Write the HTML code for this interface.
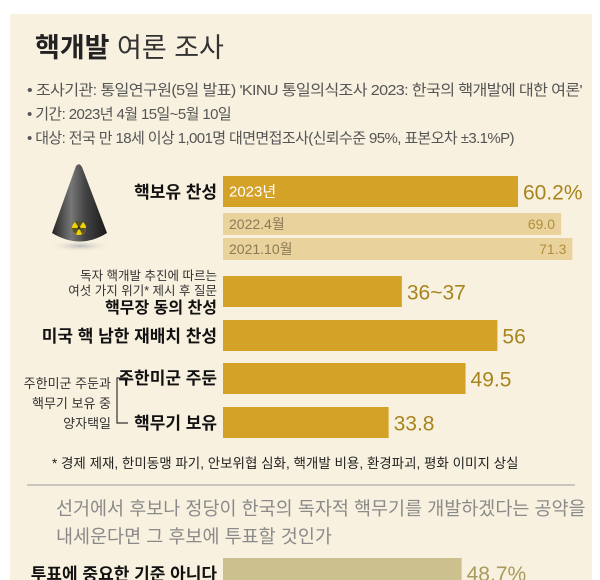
<!DOCTYPE html>
<html><head><meta charset="utf-8">
<style>
body{margin:0;width:600px;height:580px;background:#fff;overflow:hidden;font-family:"Liberation Sans","Noto Sans CJK KR",sans-serif;}
#wrap{position:absolute;left:10px;top:14px;width:582px;height:566px;background:#f8f1df;}
svg{position:absolute;left:0;top:0}
</style></head><body>
<div id="wrap"></div>
<svg id="c" width="600" height="580">
<defs>
<linearGradient id="cg" x1="0" x2="1"><stop offset="0" stop-color="#222"/><stop offset="0.35" stop-color="#777"/><stop offset="0.6" stop-color="#444"/><stop offset="1" stop-color="#1a1a1a"/></linearGradient>
<radialGradient id="sh"><stop offset="0" stop-color="#bbb"/><stop offset="1" stop-color="#f8f1df" stop-opacity="0"/></radialGradient>
</defs>
<g>
<text x="35" y="57" font-size="27" font-weight="bold" fill="#222">핵개발<tspan font-weight="normal" fill="#333"> 여론 조사</tspan></text>
</g>
<g font-size="15" fill="#555" letter-spacing="-0.6">
<text x="27" y="95" textLength="555" lengthAdjust="spacingAndGlyphs">• 조사기관: 통일연구원(5일 발표) 'KINU 통일의식조사 2023: 한국의 핵개발에 대한 여론'</text>
<text x="27" y="119">• 기간: 2023년 4월 15일~5월 10일</text>
<text x="27" y="143">• 대상: 전국 만 18세 이상 1,001명 대면면접조사(신뢰수준 95%, 표본오차 ±3.1%P)</text>
</g>
<g>
<ellipse cx="80" cy="246" rx="32" ry="6" fill="url(#sh)"/>
<path d="M76 166 Q79 162 82 167 L107 233 Q80 250 52 233 Z" fill="url(#cg)"/>
<circle cx="79" cy="228" r="7" fill="#f0d200"/>
<circle cx="79" cy="228" r="1.5" fill="#333"/>
<path d="M79 228 L75 222 A7 7 0 0 1 83 222 Z M79 228 L86 228 A7 7 0 0 1 82 234 Z M79 228 L76 234 A7 7 0 0 1 72 228 Z" fill="#333" opacity="0.8"/>
</g>
<g id="bars"></g>
<g text-anchor="end" fill="#111">
<text x="217" y="198" font-size="17" font-weight="bold">핵보유 찬성</text>
<text x="217" y="280" font-size="12.5" fill="#333">독자 핵개발 추진에 따르는</text>
<text x="217" y="295" font-size="12.5" fill="#333">여섯 가지 위기* 제시 후 질문</text>
<text x="217" y="313" font-size="16" font-weight="bold">핵무장 동의 찬성</text>
<text x="217" y="342" font-size="17" font-weight="bold">미국 핵 남한 재배치 찬성</text>
<text x="217" y="384" font-size="17" font-weight="bold">주한미군 주둔</text>
<text x="217" y="429" font-size="17" font-weight="bold">핵무기 보유</text>
<text x="111" y="388" font-size="13" fill="#333">주한미군 주둔과</text>
<text x="111" y="408" font-size="13" fill="#333">핵무기 보유 중</text>
<text x="111" y="428" font-size="13" fill="#333">양자택일</text>
</g>
<path d="M128 378 H117 V423 H128" fill="none" stroke="#333" stroke-width="1.2"/>
<text x="52" y="468" font-size="13.5" fill="#222">* 경제 제재, 한미동맹 파기, 안보위협 심화, 핵개발 비용, 환경파괴, 평화 이미지 상실</text>
<line x1="27" y1="485" x2="575" y2="485" stroke="#999" stroke-width="1"/>
<g font-size="18.5" fill="#8a8a8a">
<text x="56" y="515">선거에서 후보나 정당이 한국의 독자적 핵무기를 개발하겠다는 공약을</text>
<text x="56" y="543">내세운다면 그 후보에 투표할 것인가</text>
</g>
<text x="217" y="580" font-size="17" font-weight="bold" text-anchor="end" fill="#111">투표에 중요한 기준 아니다</text>
</svg>
<script>
const categories=["2023년","2022.4월","2021.10월","핵무장 동의 찬성","미국 핵 남한 재배치 찬성","주한미군 주둔","핵무기 보유","투표에 중요한 기준 아니다"];
const values=[60.2,69.0,71.3,36.5,56,49.5,33.8,48.7];
const valueLabels=["60.2%","69.0","71.3","36~37","56","49.5","33.8","48.7%"];
const x0=223, k=4.9;
const xs=v=>k*v;
const rows=[[176,31,'#d4a227','big'],[213,22,'#ead29c','in'],[238,22,'#ead29c','in'],[276,31,'#d4a227','out'],[320,31,'#d4a227','out'],[363,31,'#d4a227','out'],[407,31,'#d4a227','out'],[558,30,'#cbc08e','out']];
const g=document.getElementById('bars');const NS='http://www.w3.org/2000/svg';
values.forEach((v,i)=>{
 const [y,h,col,mode]=rows[i];const w=xs(v);
 const r=document.createElementNS(NS,'rect');
 r.setAttribute('x',x0);r.setAttribute('y',y);r.setAttribute('width',w);r.setAttribute('height',h);r.setAttribute('fill',col);
 
 
 g.appendChild(r);
 const t=document.createElementNS(NS,'text');
 if(mode==='in'){t.setAttribute('x',x0+w-6);t.setAttribute('text-anchor','end');t.setAttribute('font-size','14');t.setAttribute('fill','#b08f3a');t.setAttribute('y',y+h/2+5);}
 else{t.setAttribute('x',x0+w+5);t.setAttribute('font-size','21');t.setAttribute('fill',i==7?'#a99b5c':'#a8841e');t.setAttribute('y',y+h/2+8);}
 t.textContent=valueLabels[i];
 
 
 g.appendChild(t);
 if(i<3){const c=document.createElementNS(NS,'text');c.setAttribute('x',x0+6);c.setAttribute('y',y+h/2+5);c.setAttribute('font-size',i==0?'15':'14');c.setAttribute('fill',i==0?'#fff':'#8a7a55');c.textContent=categories[i];
 
 
 g.appendChild(c);}
});
</script>
</body></html>
